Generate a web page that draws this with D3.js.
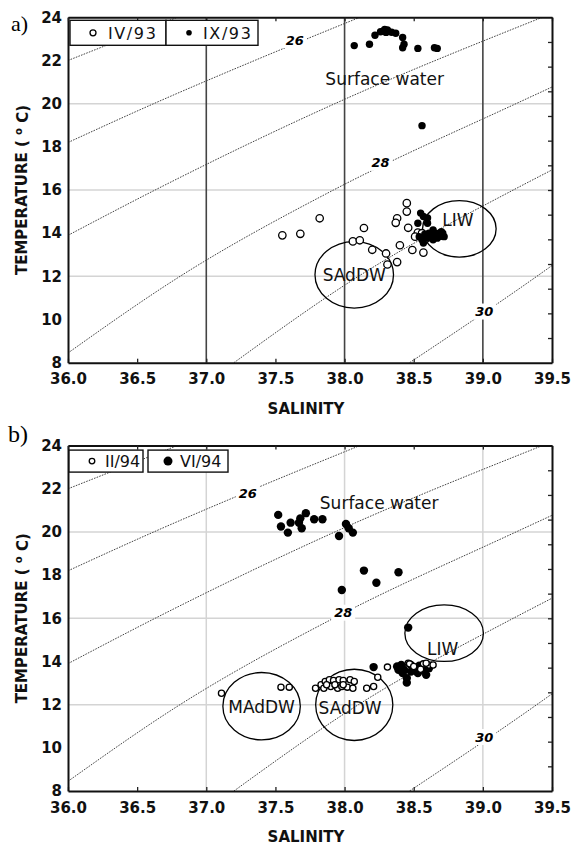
<!DOCTYPE html>
<html>
<head>
<meta charset="utf-8">
<script src="https://cdn.jsdelivr.net/npm/d3@7"></script>
<style>
  body { margin: 0; background: #fff; }
  svg { display: block; font-family: "DejaVu Sans", Verdana, sans-serif; }
</style>
</head>
<body>
<svg id="chart" width="571" height="845"></svg>
<script>
// axis ticks and grid
var salinityTicks = [36.0, 36.5, 37.0, 37.5, 38.0, 38.5, 39.0, 39.5];
var tempTicks = [8, 10, 12, 14, 16, 18, 20, 22, 24];
var gridSalinity = [37, 38, 39];
var gridTemp = [12, 16, 20];

// isopycnals (sigma-t), [salinity, temperature]
var sigma25 = [[36.0, 22.0], [36.79, 24.0]];
var sigma26 = [[36.0, 18.2], [36.62, 20.0], [37.35, 22.0], [38.11, 24.0]];
var sigma27 = [[36.0, 13.9], [36.63, 16.0], [37.93, 20.0], [39.43, 24.0]];
var sigma28 = [[36.0, 8.45], [36.81, 12.0], [37.92, 16.0], [39.24, 20.0], [39.5, 20.77]];
var sigma29 = [[37.2, 8.0], [38.1, 12.0], [39.22, 16.0], [39.5, 16.93]];
var sigma30 = [[38.47, 8.0], [39.39, 12.0], [39.5, 12.5]];
var isopycnals = [sigma25, sigma26, sigma27, sigma28, sigma29, sigma30];

var isoLabelsA = [{ text: "26", s: 37.64, t: 22.95 }, { text: "28", s: 38.26, t: 17.26 }, { text: "30", s: 39.01, t: 10.37 }];
var isoLabelsB = [{ text: "26", s: 37.30, t: 21.79 }, { text: "28", s: 37.99, t: 16.26 }, { text: "30", s: 39.01, t: 10.5 }];

// panel a: IV/93 (open) and IX/93 (filled)
var iv93 = [
  [37.55, 13.90], [37.68, 13.97], [37.82, 14.69],
  [38.06, 13.62], [38.11, 13.67], [38.14, 14.24],
  [38.20, 13.23], [38.30, 13.06], [38.31, 12.55], [38.38, 12.66],
  [38.40, 13.44], [38.38, 14.69], [38.37, 14.48],
  [38.45, 15.39], [38.45, 15.00], [38.46, 14.25],
  [38.49, 13.22], [38.57, 13.10], [38.53, 14.03], [38.51, 13.84],
  [38.56, 14.00], [38.58, 13.69]
];
var ix93 = [
  [38.07, 22.69], [38.18, 22.75], [38.22, 23.17], [38.26, 23.33], [38.29, 23.44],
  [38.31, 23.41], [38.34, 23.31], [38.37, 23.26], [38.42, 23.07], [38.43, 22.75],
  [38.42, 22.59], [38.53, 22.56], [38.65, 22.59], [38.67, 22.56], [38.28, 23.36], [38.30, 23.30],
  [38.56, 18.98],
  [38.55, 14.93], [38.53, 14.46], [38.57, 14.77], [38.60, 14.46], [38.60, 14.70],
  [38.54, 13.84], [38.64, 14.15], [38.66, 14.00], [38.68, 13.92], [38.71, 14.00],
  [38.72, 13.84], [38.67, 13.77], [38.64, 13.69], [38.60, 13.77], [38.57, 13.54],
  [38.65, 13.84], [38.70, 14.07], [38.61, 14.00], [38.56, 13.69], [38.63, 13.90],
  [38.69, 13.85], [38.58, 13.95]
];

// panel b: II/94 (open) and VI/94 (filled)
var ii94 = [
  [37.11, 12.53], [37.54, 12.81], [37.60, 12.81],
  [37.79, 12.76], [37.83, 12.92], [37.86, 13.07], [37.89, 13.15], [37.92, 13.12],
  [37.96, 13.15], [37.99, 13.12], [38.04, 13.15], [38.07, 13.07], [37.85, 12.76],
  [37.90, 12.84], [37.95, 12.76], [37.98, 12.84], [38.02, 12.81], [38.06, 12.76],
  [37.87, 12.92], [37.93, 12.92], [37.99, 12.92],
  [38.16, 12.76], [38.21, 12.84], [38.24, 13.27], [38.31, 13.74],
  [38.46, 13.92], [38.47, 13.89], [38.57, 13.89], [38.61, 13.84], [38.64, 13.84],
  [38.59, 13.92], [38.55, 13.64], [38.50, 13.77]
];
var vi94 = [
  [37.52, 20.79], [37.54, 20.25], [37.59, 19.97], [37.61, 20.43], [37.67, 20.43],
  [37.69, 20.17], [37.68, 20.63], [37.72, 20.87], [37.78, 20.59], [37.84, 20.59],
  [37.96, 19.81], [38.01, 20.37], [38.03, 20.17], [38.06, 19.97],
  [38.14, 18.21], [38.23, 17.65], [38.39, 18.13], [37.98, 17.31],
  [38.46, 15.57], [38.21, 13.74],
  [38.38, 13.77], [38.42, 13.46], [38.45, 13.23], [38.43, 13.61], [38.48, 13.53],
  [38.50, 13.69], [38.53, 13.46], [38.56, 13.61], [38.59, 13.38], [38.48, 13.84],
  [38.41, 13.84], [38.61, 13.69], [38.54, 13.80], [38.39, 13.61], [38.57, 13.84], [38.45, 13.02]
];

// water mass ellipses (centre and half-axes in data units) and their labels
var massesA = [
  { s: 38.07, t: 12.07, rs: 0.284, rt: 1.54 },
  { s: 38.83, t: 14.20, rs: 0.266, rt: 1.31 }
];
var massesB = [
  { s: 37.40, t: 11.93, rs: 0.280, rt: 1.56 },
  { s: 38.07, t: 11.99, rs: 0.279, rt: 1.65 },
  { s: 38.72, t: 15.31, rs: 0.284, rt: 1.31 }
];
var massLabelsA = [
  { text: "SAdDW", s: 38.07, t: 12.05 },
  { text: "LIW", s: 38.82, t: 14.62 },
  { text: "Surface water", s: 38.29, t: 21.14 }
];
var massLabelsB = [
  { text: "MAdDW", s: 37.40, t: 11.91 },
  { text: "SAdDW", s: 38.04, t: 11.85 },
  { text: "LIW", s: 38.71, t: 14.58 },
  { text: "Surface water", s: 38.25, t: 21.36 }
];

var legendA = ["IV/93", "IX/93"];
var legendB = ["II/94", "VI/94"];

var svg = d3.select("#chart");
var plotH = 345.4;

function drawPanel(id, top, cfg) {
  var x = d3.scaleLinear().domain([36, 39.5]).range([68, 552]);
  var y = d3.scaleLinear().domain([8, 24]).range([plotH, 0]);
  var yRight = d3.scaleLinear().domain([0, 14]).range([plotH, 0]);

  var g = svg.append("g").attr("transform", "translate(0," + top + ")");

  g.append("clipPath").attr("id", "clip" + id)
    .append("rect").attr("x", 68).attr("y", 0).attr("width", 484).attr("height", plotH);

  // grid
  g.selectAll(".hgrid").data(gridTemp).enter().append("line")
    .attr("x1", 68).attr("x2", 552)
    .attr("y1", function(d) { return y(d); }).attr("y2", function(d) { return y(d); })
    .attr("stroke", "#d4d4d4").attr("stroke-width", 1.5);
  g.selectAll(".vgrid").data(gridSalinity).enter().append("line")
    .attr("x1", function(d) { return x(d); }).attr("x2", function(d) { return x(d); })
    .attr("y1", 0).attr("y2", plotH)
    .attr("stroke", cfg.vGrid).attr("stroke-width", cfg.vGridW);

  // isopycnals
  var line = d3.line()
    .x(function(d) { return x(d[0]); })
    .y(function(d) { return y(d[1]); })
    .curve(d3.curveMonotoneX);
  g.append("g").attr("clip-path", "url(#clip" + id + ")")
    .selectAll("path").data(isopycnals).enter().append("path")
    .attr("d", line)
    .attr("fill", "none")
    .attr("stroke", "#444")
    .attr("stroke-width", 1)
    .attr("stroke-dasharray", "1.6,1.2");

  var iso = g.selectAll(".isolab").data(cfg.isoLabels).enter().append("g")
    .attr("transform", function(d) { return "translate(" + x(d.s) + "," + y(d.t) + ")"; });
  iso.append("rect").attr("x", -12).attr("y", -8).attr("width", 24).attr("height", 16).attr("fill", "#fff");
  iso.append("text")
    .attr("text-anchor", "middle").attr("dy", "0.36em")
    .attr("font-size", 13).attr("font-weight", "bold").attr("font-style", "italic")
    .text(function(d) { return d.text; });

  // water mass ellipses
  g.selectAll(".mass").data(cfg.masses).enter().append("ellipse")
    .attr("cx", function(d) { return x(d.s); })
    .attr("cy", function(d) { return y(d.t); })
    .attr("rx", function(d) { return x(d.s + d.rs) - x(d.s); })
    .attr("ry", function(d) { return y(d.t - d.rt) - y(d.t); })
    .attr("fill", "none").attr("stroke", "#000").attr("stroke-width", 1.3);

  // points
  function openPts(data) {
    g.append("g").selectAll("circle").data(data).enter().append("circle")
      .attr("cx", function(d) { return x(d[0]); })
      .attr("cy", function(d) { return y(d[1]); })
      .attr("r", cfg.openR)
      .attr("fill", "#fff").attr("stroke", "#000").attr("stroke-width", 1.3);
  }
  function filledPts(data) {
    g.append("g").selectAll("circle").data(data).enter().append("circle")
      .attr("cx", function(d) { return x(d[0]); })
      .attr("cy", function(d) { return y(d[1]); })
      .attr("r", cfg.filledR)
      .attr("fill", "#000");
  }
  if (cfg.openFirst) { openPts(cfg.open); filledPts(cfg.filled); }
  else { filledPts(cfg.filled); openPts(cfg.open); }

  // water mass labels
  g.selectAll(".masslab").data(cfg.massLabels).enter().append("text")
    .attr("x", function(d) { return x(d.s); })
    .attr("y", function(d) { return y(d.t); })
    .attr("dy", "0.36em").attr("text-anchor", "middle")
    .attr("font-size", 17).attr("fill", "#111")
    .text(function(d) { return d.text; });

  // axes
  var bottom = g.append("g").attr("transform", "translate(0," + plotH + ")")
    .call(d3.axisBottom(x).tickValues(salinityTicks).tickFormat(d3.format(".1f"))
      .tickSize(-4).tickSizeOuter(0).tickPadding(11));
  var left = g.append("g").attr("transform", "translate(68,0)")
    .call(d3.axisLeft(y).tickValues(tempTicks).tickSize(0).tickPadding(6));
  var topAx = g.append("g")
    .call(d3.axisTop(x).tickValues(salinityTicks).tickFormat("").tickSize(-4).tickSizeOuter(0));
  var right = g.append("g").attr("transform", "translate(552,0)")
    .call(d3.axisRight(yRight).tickValues(d3.range(1, 14)).tickFormat("").tickSize(-4).tickSizeOuter(0));
  [bottom, left, topAx, right].forEach(function(a) {
    a.select(".domain").attr("stroke", "#111").attr("stroke-width", 2);
    a.selectAll(".tick line").attr("stroke", "#222").attr("stroke-width", 1.3);
    a.selectAll("text").attr("font-size", 15).attr("font-weight", "bold")
      .attr("fill", "#111").attr("font-family", "DejaVu Sans, sans-serif");
  });

  // axis titles
  g.append("text").attr("x", 306).attr("y", plotH + 46).attr("dy", "0.36em")
    .attr("text-anchor", "middle").attr("font-size", 15).attr("font-weight", "bold")
    .attr("fill", "#111").text("SALINITY");
  var yt = g.append("text")
    .attr("transform", "translate(22," + (plotH / 2) + ") rotate(-90)")
    .attr("text-anchor", "middle").attr("dy", "0.36em")
    .attr("font-size", 15).attr("font-weight", "bold").attr("fill", "#111");
  yt.append("tspan").text("TEMPERATURE ( ");
  yt.append("tspan").attr("font-size", 10).attr("dy", "-0.5em").text("o");
  yt.append("tspan").attr("dy", "0.35em").text(" C)");

  // legend
  var lg = g.append("g");
  cfg.legendBoxes.forEach(function(b, i) {
    var item = lg.append("g");
    item.append("rect").attr("x", b[0]).attr("y", cfg.legendY).attr("width", b[1]).attr("height", cfg.legendH)
      .attr("fill", "#fff").attr("stroke", "#111").attr("stroke-width", 1.4);
    var cy = cfg.legendY + cfg.legendH / 2;
    if (i === 0) {
      item.append("circle").attr("cx", b[0] + cfg.markerDx[0]).attr("cy", cy).attr("r", cfg.legendR[0])
        .attr("fill", "#fff").attr("stroke", "#000").attr("stroke-width", 1.3);
    } else {
      item.append("circle").attr("cx", b[0] + cfg.markerDx[1]).attr("cy", cy).attr("r", cfg.legendR[1])
        .attr("fill", "#000");
    }
    item.append("text").attr("x", b[0] + cfg.textDx[i]).attr("y", cy).attr("dy", "0.36em")
      .attr("font-size", 16).attr("letter-spacing", cfg.legendSpacing).attr("fill", "#111")
      .text(cfg.legend[i]);
  });

  // panel tag
  svg.append("text").attr("x", cfg.tag[1]).attr("y", cfg.tag[2])
    .attr("font-family", "Liberation Serif, serif").attr("font-size", cfg.tag[3])
    .text(cfg.tag[0]);
}

drawPanel("a", 17.3, {
  vGrid: "#444", vGridW: 1.6,
  isoLabels: isoLabelsA, masses: massesA, massLabels: massLabelsA,
  open: iv93, filled: ix93, openFirst: true, openR: 3.7, filledR: 3.7,
  legend: legendA, legendBoxes: [[70, 96], [166, 92]], legendY: 3, legendH: 25,
  markerDx: [23, 23], textDx: [38, 37], legendR: [3, 2.8], legendSpacing: 1.6,
  tag: ["a)", 11, 31, 22]
});

drawPanel("b", 445.6, {
  vGrid: "#d4d4d4", vGridW: 1.5,
  isoLabels: isoLabelsB, masses: massesB, massLabels: massLabelsB,
  open: ii94, filled: vi94, openFirst: false, openR: 3.1, filledR: 4.2,
  legend: legendB, legendBoxes: [[69, 74], [148, 80]], legendY: 4.5, legendH: 22,
  markerDx: [23, 20], textDx: [36, 32], legendR: [2.8, 4.5], legendSpacing: 0,
  tag: ["b)", 8, 442, 24]
});
</script>
</body>
</html>
